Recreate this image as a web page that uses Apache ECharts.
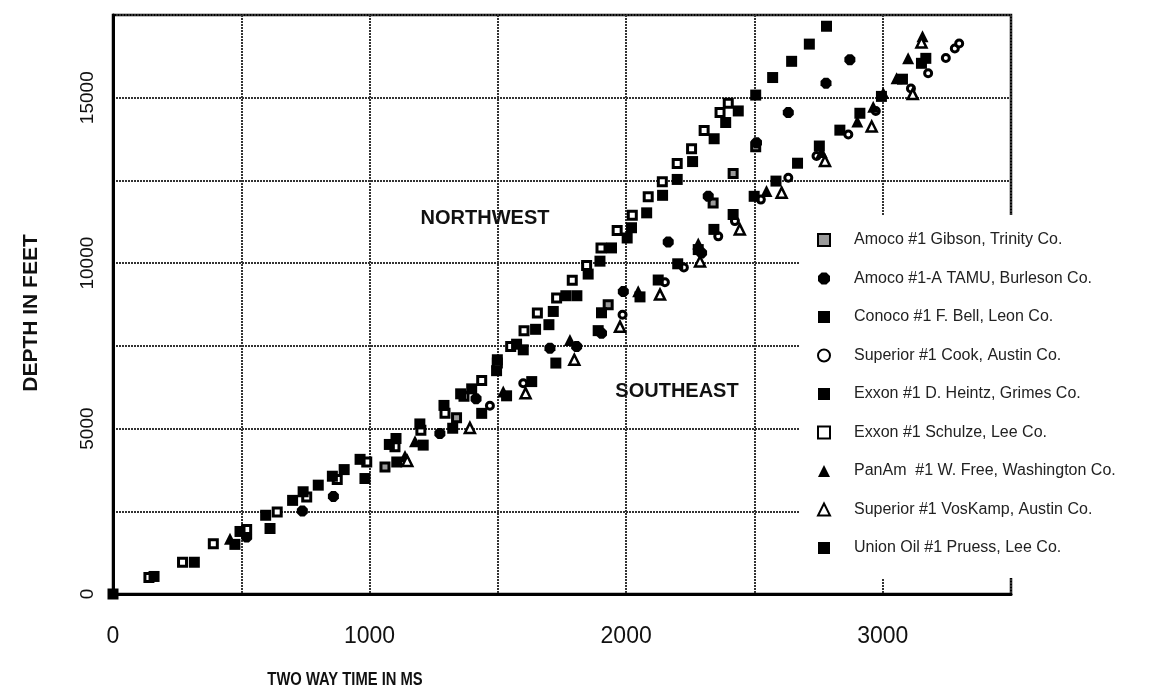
<!DOCTYPE html>
<html>
<head>
<meta charset="utf-8">
<script src="https://cdn.jsdelivr.net/npm/echarts@6/dist/echarts.min.js"></script>
<style>
  html, body { margin: 0; padding: 0; background: #fff; }
  #chart { width: 1154px; height: 692px; }
</style>
</head>
<body>
<div id="chart"></div>
<script>
// Two-way travel time (ms) vs depth (ft) for wells in the region.
const wellNames = [
  'Amoco #1 Gibson, Trinity Co.',
  'Amoco #1-A TAMU, Burleson Co.',
  'Conoco #1 F. Bell, Leon Co.',
  'Superior #1 Cook, Austin Co.',
  'Exxon #1 D. Heintz, Grimes Co.',
  'Exxon #1 Schulze, Lee Co.',
  'PanAm  #1 W. Free, Washington Co.',
  'Superior #1 VosKamp, Austin Co.',
  'Union Oil #1 Pruess, Lee Co.'
];

const amocoGibson = [[1060,3840],[1339,5330],[1930,8740],[2339,11820],[2417,12710],[2505,13520]];
const amocoTamu = [[521,1720],[738,2510],[859,2950],[1274,4850],[1415,5900],[1703,7430],[1807,7480],
  [1904,7880],[1989,9140],[2164,10640],[2294,10310],[2320,12020],[2508,13640],[2632,14550],
  [2779,15440],[2872,16150]];
const conocoBell = [[1716,8540],[2142,12050],[2259,13070],[2343,13760],[2388,14250],[2437,14600],
  [2505,15080],[2571,15610],[2645,16100],[2714,16620],[2781,17160]];
const superiorCook = [[1469,5690],[1599,6370],[1986,8440],[2151,9420],[2225,9870],[2359,10810],
  [2424,11270],[2525,11920],[2632,12580],[2742,13240],[2866,13890],[2973,14600],[3110,15280],
  [3177,15740],[3246,16200],[3281,16490],[3298,16640]];
const exxonHeintz = [[1106,3990],[1209,4500],[1324,5010],[1437,5460],[1534,5990],[1632,6420],
  [1726,6980],[1891,7960],[1904,8500],[2054,8980],[2125,9490],[2201,9980],[2281,10410],
  [2342,11020],[2417,11470],[2499,12020],[2584,12480],[2668,13020],[2753,13540],[2833,14020],
  [2911,14530],[2995,15040],[3077,15560],[3151,16040],[3168,16190]];
const exxonSchulze = [[140,500],[271,960],[391,1520],[521,1950],[640,2480],[755,2930],[874,3460],
  [989,3990],[1099,4450],[1200,4950],[1294,5460],[1368,5980],[1437,6450],[1498,6980],[1550,7480],
  [1602,7960],[1654,8490],[1729,8950],[1790,9480],[1846,9930],[1902,10460],[1965,10990],
  [2024,11450],[2086,12010],[2141,12460],[2199,13010],[2255,13460],[2304,14010],[2366,14550],
  [2398,14830]];
const panamFree = [[456,1670],[1138,4170],[1177,4620],[1521,6120],[1781,7680],[2047,9150],
  [2281,10590],[2547,12180],[2762,13360],[2901,14280],[2963,14730],[3002,15140],[3054,15590],
  [3099,16190],[3155,16860]];
const superiorVosKamp = [[1147,4020],[1391,5020],[1608,6070],[1798,7080],[1976,8080],[2132,9050],
  [2288,10050],[2443,11020],[2606,12130],[2775,13090],[2957,14130],[3117,15110],[3151,16670]];
const unionPruess = [[0,0],[160,530],[317,960],[475,1500],[495,1890],[595,2380],[612,1980],
  [700,2830],[741,3090],[800,3290],[855,3560],[901,3760],[963,4070],[982,3490],[1077,4520],
  [1103,4700],[1196,5140],[1290,5700],[1355,6050],[1398,6200],[1495,6750],[1498,7080],
  [1573,7550],[1599,7380],[1647,8000],[1699,8140],[1765,9015],[1808,9015],[1852,9670],
  [1898,10060],[1943,10460],[2004,10760],[2021,11070],[2080,11520],[2199,12530]];

const xTickLabels = ['0', '1000', '2000', '3000'];
const yTickLabels = ['0', '5000', '10000', '15000'];

const octagon = 'path://M3,0 L7,0 L10,3 L10,7 L7,10 L3,10 L0,7 L0,3 Z';

// marker look for each well, in legend order
const markerStyles = [
  { symbol: 'rect', size: 8, color: '#9a9a9a', borderColor: '#000', borderWidth: 3 },
  { symbol: octagon, size: 11, color: '#000', borderColor: '#000', borderWidth: 0 },
  { symbol: 'rect', size: 11, color: '#000', borderColor: '#000', borderWidth: 0 },
  { symbol: 'circle', size: 7, color: '#fff', borderColor: '#000', borderWidth: 3 },
  { symbol: 'rect', size: 11, color: '#000', borderColor: '#000', borderWidth: 0 },
  { symbol: 'rect', size: 8, color: '#fff', borderColor: '#000', borderWidth: 3 },
  { symbol: 'triangle', size: 12, color: '#000', borderColor: '#000', borderWidth: 0 },
  { symbol: 'triangle', size: 10, color: '#fff', borderColor: '#000', borderWidth: 2.5 },
  { symbol: 'rect', size: 11, color: '#000', borderColor: '#000', borderWidth: 0 }
];
const wellData = [amocoGibson, amocoTamu, conocoBell, superiorCook, exxonHeintz,
  exxonSchulze, panamFree, superiorVosKamp, unionPruess];

const series = wellNames.map((name, i) => ({
  name,
  type: 'scatter',
  data: wellData[i],
  symbol: markerStyles[i].symbol,
  symbolSize: markerStyles[i].size,
  itemStyle: {
    color: markerStyles[i].color,
    borderColor: markerStyles[i].borderColor,
    borderWidth: markerStyles[i].borderWidth,
    opacity: 1
  },
  emphasis: { disabled: true },
  z: 3
}));

const legendData = wellNames.map((name, i) => ({
  name,
  icon: markerStyles[i].symbol,
  itemStyle: {
    color: markerStyles[i].color,
    borderColor: markerStyles[i].borderColor,
    borderWidth: markerStyles[i].borderWidth ? 2 : 0
  }
}));

const baseFont = "'Liberation Sans', Arial, Helvetica, sans-serif";
const chart = echarts.init(document.getElementById('chart'), null, { renderer: 'canvas' });

chart.setOption({
  animation: false,
  backgroundColor: '#fff',
  grid: {
    left: 113, right: 143, top: 15, bottom: 98,
    show: true, borderColor: '#000', borderWidth: 2.5, backgroundColor: 'transparent'
  },
  xAxis: {
    type: 'value', min: 0, max: 3500, interval: 500,
    axisLine: { show: true, onZero: false, lineStyle: { color: '#000', width: 3 } },
    axisTick: { show: false },
    splitLine: { show: true, lineStyle: { color: '#333', width: 2, type: [2, 1] } },
    axisLabel: {
      margin: 31, color: '#111', fontSize: 23, fontFamily: baseFont,
      formatter: v => (v % 1000 === 0 ? xTickLabels[v / 1000] : '')
    }
  },
  yAxis: {
    type: 'value', min: 0, max: 17500, interval: 2500,
    axisLine: { show: true, onZero: false, lineStyle: { color: '#000', width: 3 } },
    axisTick: { show: false },
    splitLine: { show: true, lineStyle: { color: '#333', width: 2, type: [2, 1] } },
    axisLabel: {
      margin: 16, rotate: 90, color: '#111', fontSize: 19, fontFamily: baseFont,
      formatter: v => (v % 5000 === 0 ? yTickLabels[v / 5000] : '')
    }
  },
  legend: {
    orient: 'vertical',
    left: 800, top: 215,
    padding: [17, 10, 22, 17],
    backgroundColor: '#fff',
    itemWidth: 12, itemHeight: 12,
    itemGap: 22.5,
    selectedMode: false,
    data: legendData,
    textStyle: {
      fontSize: 16, lineHeight: 16, color: '#222', fontFamily: baseFont,
      padding: [0, 0, 0, 19]
    }
  },
  graphic: [
    {
      type: 'text', x: 485, y: 218, z: 10,
      style: { text: 'NORTHWEST', font: "bold 20px " + baseFont, fill: '#111',
        textAlign: 'center', textVerticalAlign: 'middle' }
    },
    {
      type: 'text', x: 677, y: 391, z: 10,
      style: { text: 'SOUTHEAST', font: "bold 20px " + baseFont, fill: '#111',
        textAlign: 'center', textVerticalAlign: 'middle' }
    },
    {
      type: 'text', x: 345, y: 680, scaleX: 0.82, z: 10,
      style: { text: 'TWO WAY TIME IN MS', font: "bold 18px " + baseFont,
        fill: '#111', textAlign: 'center', textVerticalAlign: 'middle' }
    },
    {
      type: 'text', x: 31, y: 313, rotation: Math.PI / 2, z: 10,
      style: { text: 'DEPTH IN FEET', font: "bold 21px " + baseFont, fill: '#111',
        textAlign: 'center', textVerticalAlign: 'middle' }
    }
  ],
  series
});
</script>
</body>
</html>
